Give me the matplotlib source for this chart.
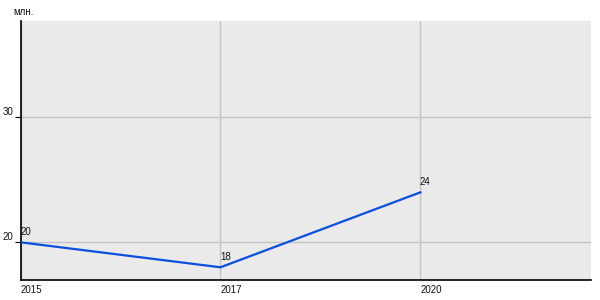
import numpy as np
import matplotlib.pyplot as plt

# Données
annees = ['2015', '2017', '2020']
valeurs = [20, 18, 24]
yticks = [20, 30]
unite = 'млн.'

plt.rcParams['font.family'] = ['Liberation Sans', 'DejaVu Sans']
taille = 7

fig = plt.figure(figsize=(6, 3), dpi=100)
ax = fig.add_axes([20.5 / 600, 19.7 / 300, 570.5 / 600, 259.6 / 300])
ax.set_facecolor('#eaeaea')

x = np.arange(len(annees))
ax.plot(x, valeurs, color='#0a4fe0', lw=1.6, solid_joinstyle='miter', zorder=3)
for xi, v in zip(x, valeurs):
    ax.annotate(str(v), (xi, v), xytext=(-0.3, 3.5), textcoords='offset points',
                fontsize=taille, ha='left', va='bottom', color='#111111')

ax.set_xlim(0, 2.853)
ax.set_ylim(16.96, 37.73)
ax.set_xticks(x)
ax.set_xticklabels(annees, ha='left', fontsize=taille, color='#111111')
ax.set_yticks(yticks)
ax.set_yticklabels([str(t) for t in yticks], fontsize=taille, color='#111111', va='bottom')
ax.tick_params(axis='x', length=0, pad=3.5)
ax.tick_params(axis='y', length=4, width=0.8, pad=1)
ax.grid(True, color='#c4c4c4', lw=1)
ax.set_axisbelow(True)

for s in ['top', 'right']:
    ax.spines[s].set_visible(False)
ax.spines['left'].set_linewidth(1.2)
ax.spines['bottom'].set_linewidth(1.2)

fig.text(13 / 600, 1 - 12 / 300, unite, fontsize=taille, va='center', ha='left', color='#111111')

fig.savefig('out.png', dpi=100)
